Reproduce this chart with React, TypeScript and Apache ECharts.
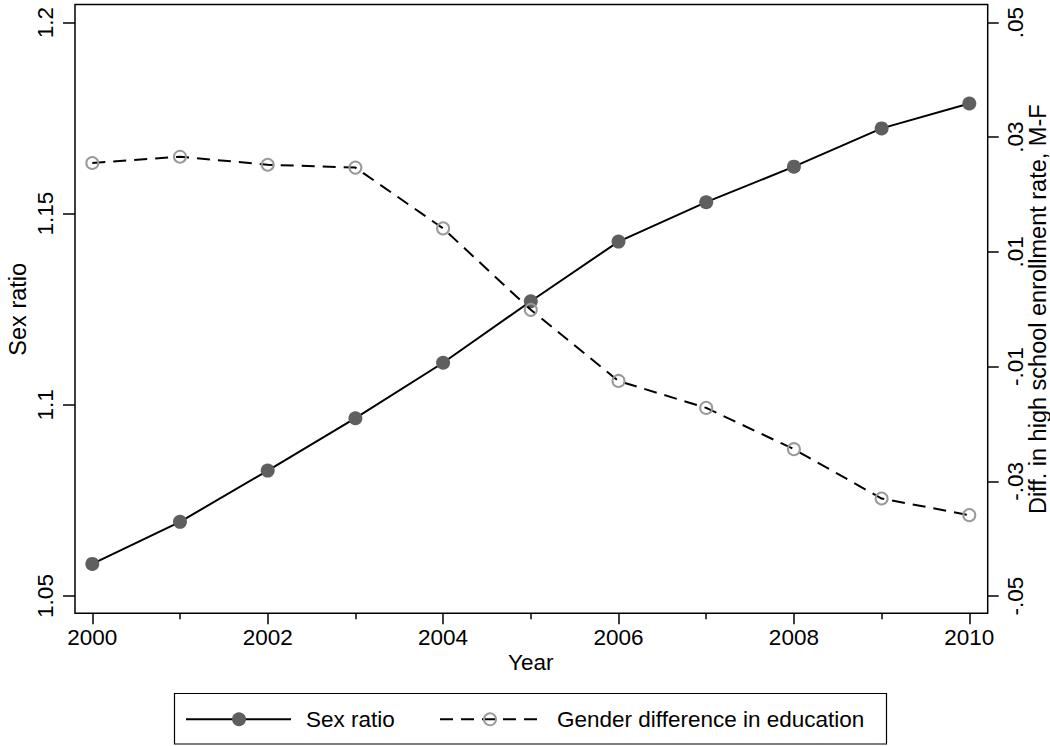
import React, { useEffect, useRef } from "react";
import * as echarts from "echarts";

const years = [2000, 2001, 2002, 2003, 2004, 2005, 2006, 2007, 2008, 2009, 2010];
const sexRatio = [1.0584, 1.0694, 1.0828, 1.0965, 1.111, 1.1271, 1.1427, 1.153, 1.1623, 1.1723, 1.1788];
const genderDiff = [0.0255, 0.0266, 0.0252, 0.0247, 0.0141, -0.0001, -0.0125, -0.0172, -0.0244, -0.033, -0.0359];
const seriesNames = ["Sex ratio", "Gender difference in education"];
const axisTitles = { x: "Year", left: "Sex ratio", right: "Diff. in high school enrollment rate, M-F" };

const FONT = "'Liberation Sans', Arial, Helvetica, sans-serif";
const DARK = "#5f5f5f";
const LIGHT = "#9a9a9a";
const FS = 22.5;
const FS_TITLE = 23.5;

export default function App() {
  const ref = useRef<HTMLDivElement>(null);
  useEffect(() => {
    if (!ref.current) return;
    const chart = echarts.init(ref.current, null, { renderer: "svg" });
    const fmtRight = (v: number) => {
      const s = String(+v.toFixed(2));
      return s.replace(/^(-?)0\./, "$1.");
    };
    const lgY = 719.3;
    chart.setOption({
      animation: false,
      backgroundColor: "#fff",
      textStyle: { fontFamily: FONT },
      grid: {
        left: 92.3,
        right: 80.7,
        top: 22.5,
        bottom: 150,
        containLabel: false,
        outerBoundsMode: "none",
      },
      xAxis: {
        type: "value",
        min: 2000,
        max: 2010,
        interval: 2,
        offset: 17.3,
        name: axisTitles.x,
        nameLocation: "middle",
        nameGap: 38,
        nameMoveOverlap: false,
        nameTextStyle: { fontSize: FS, color: "#000", fontFamily: FONT },
        axisLine: { show: false, onZero: false },
        axisTick: { show: true, length: 11, lineStyle: { color: "#000", width: 1.5 } },
        minorTick: { show: true, splitNumber: 2, length: 6, lineStyle: { color: "#000", width: 1.5 } },
        axisLabel: { fontSize: FS, color: "#000", margin: 13, fontFamily: FONT, formatter: (v: number) => String(v) },
        splitLine: { show: false },
      },
      yAxis: [
        {
          type: "value",
          position: "left",
          min: 1.05,
          max: 1.2,
          interval: 0.05,
          offset: 17.3,
          name: axisTitles.left,
          nameLocation: "middle",
          nameRotate: 90,
          nameGap: 45,
          nameMoveOverlap: false,
          nameTextStyle: { fontSize: FS_TITLE, color: "#000", fontFamily: FONT },
          axisLine: { show: false, onZero: false },
          axisTick: { show: true, length: 12, lineStyle: { color: "#000", width: 1.5 } },
          axisLabel: {
            fontSize: FS,
            color: "#000",
            rotate: 90,
            margin: 18,
            fontFamily: FONT,
            formatter: (v: number) => String(+v.toFixed(2)),
          },
          splitLine: { show: false },
        },
        {
          type: "value",
          position: "right",
          min: -0.05,
          max: 0.05,
          interval: 0.02,
          offset: 18.4,
          name: axisTitles.right,
          nameLocation: "middle",
          nameRotate: 90,
          nameGap: 38,
          nameMoveOverlap: false,
          nameTextStyle: { fontSize: FS_TITLE, color: "#000", fontFamily: FONT },
          axisLine: { show: false, onZero: false },
          axisTick: { show: true, length: 11, lineStyle: { color: "#000", width: 1.5 } },
          axisLabel: {
            fontSize: FS,
            color: "#000",
            rotate: 90,
            margin: 16,
            fontFamily: FONT,
            formatter: fmtRight,
          },
          splitLine: { show: false },
        },
      ],
      series: [
        {
          name: seriesNames[0],
          type: "line",
          yAxisIndex: 0,
          data: years.map((y, i) => [y, sexRatio[i]]),
          symbol: "circle",
          symbolSize: 14,
          lineStyle: { color: "#000", width: 2 },
          itemStyle: { color: DARK, borderWidth: 0 },
          z: 2,
        },
        {
          name: seriesNames[1],
          type: "line",
          yAxisIndex: 1,
          data: years.map((y, i) => [y, genderDiff[i]]),
          symbol: "circle",
          symbolSize: 12,
          lineStyle: { color: "#000", width: 2, type: [13, 8] },
          itemStyle: { color: "rgba(0,0,0,0)", borderColor: LIGHT, borderWidth: 2 },
          z: 3,
        },
      ],
      graphic: [
        {
          type: "rect",
          shape: { x: 75, y: 4.5, width: 912.7, height: 608.8 },
          style: { fill: "none", stroke: "#000", lineWidth: 1.5 },
          silent: true,
          z: 10,
        },
        {
          type: "rect",
          shape: { x: 174.5, y: 693.5, width: 712, height: 50.5 },
          style: { fill: "none", stroke: "#000", lineWidth: 1.2 },
          silent: true,
        },
        {
          type: "line",
          shape: { x1: 186, y1: lgY, x2: 291, y2: lgY },
          style: { stroke: "#000", lineWidth: 2 },
        },
        {
          type: "circle",
          shape: { cx: 239, cy: lgY, r: 7 },
          style: { fill: DARK },
        },
        {
          type: "text",
          x: 306,
          y: lgY,
          style: { text: seriesNames[0], fontSize: FS, fill: "#000", fontFamily: FONT, verticalAlign: "middle", align: "left" },
        },
        {
          type: "line",
          shape: { x1: 440, y1: lgY, x2: 543, y2: lgY },
          style: { stroke: "#000", lineWidth: 2, lineDash: [13, 8] },
        },
        {
          type: "circle",
          shape: { cx: 490, cy: lgY, r: 6 },
          style: { fill: "none", stroke: LIGHT, lineWidth: 2 },
        },
        {
          type: "text",
          x: 557,
          y: lgY,
          style: { text: seriesNames[1], fontSize: FS, fill: "#000", fontFamily: FONT, verticalAlign: "middle", align: "left" },
        },
      ],
    });
    return () => chart.dispose();
  }, []);
  return (
    <div
      ref={ref}
      style={{ position: "absolute", left: 0, top: 0, width: 1050, height: 746, background: "#fff" }}
    />
  );
}
